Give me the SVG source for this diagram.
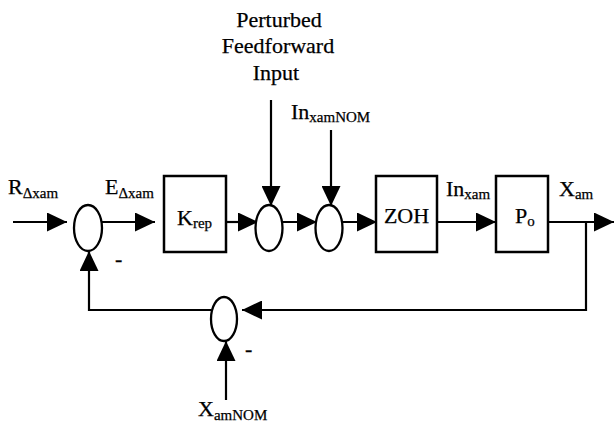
<svg xmlns="http://www.w3.org/2000/svg" width="614" height="424" viewBox="0 0 614 424">
<defs>
<style>
text{font-family:"Liberation Serif","Times New Roman",serif;fill:#000;stroke:#000;stroke-width:0.25}
.lbl{font-size:22px}
.sub{font-size:15px}
.box{fill:#fff;stroke:#000;stroke-width:2.5}
.sum{fill:#fff;stroke:#000;stroke-width:2.3}
.wire{fill:none;stroke:#000;stroke-width:2.2}
</style>
<marker id="ah" markerUnits="userSpaceOnUse" markerWidth="20" markerHeight="19" refX="20" refY="9.5" orient="auto">
<path d="M0,0 L20,9.5 L0,19 Z" fill="#000"/>
</marker>
</defs>
<rect width="614" height="424" fill="#fff"/>

<g id="connectors">
<line class="wire" x1="13" y1="222" x2="67" y2="222" marker-end="url(#ah)"/>
<line class="wire" x1="102" y1="222" x2="155" y2="222" marker-end="url(#ah)"/>
<line class="wire" x1="226" y1="222" x2="258" y2="222" marker-end="url(#ah)"/>
<line class="wire" x1="283" y1="222" x2="317" y2="222" marker-end="url(#ah)"/>
<line class="wire" x1="343" y1="222" x2="377" y2="222" marker-end="url(#ah)"/>
<line class="wire" x1="437" y1="222" x2="496" y2="222" marker-end="url(#ah)"/>
<line class="wire" x1="548" y1="222" x2="614" y2="222" marker-end="url(#ah)"/>
<line class="wire" x1="271" y1="100" x2="271" y2="206" marker-end="url(#ah)"/>
<line class="wire" x1="331" y1="130" x2="331" y2="206" marker-end="url(#ah)"/>
<polyline class="wire" points="586,222 586,310 242,310" marker-end="url(#ah)"/>
<polyline class="wire" points="211,310 89,310 89,251" marker-end="url(#ah)"/>
<line class="wire" x1="226" y1="400" x2="226" y2="341" marker-end="url(#ah)"/>
</g>

<g id="input-R">
<text class="lbl" x="8" y="194">R<tspan class="sub" dy="4">Δxam</tspan></text>
</g>
<g id="sum1">
<ellipse class="sum" cx="88" cy="228" rx="14" ry="23"/>
<text class="lbl" x="115" y="266">-</text>
</g>
<g id="error-E">
<text class="lbl" x="105" y="194">E<tspan class="sub" dy="4">Δxam</tspan></text>
</g>
<g id="krep">
<rect class="box" x="164" y="176" width="62" height="76"/>
<text class="lbl" x="177" y="225">K<tspan class="sub" dy="3">rep</tspan></text>
</g>
<g id="feedforward-label">
<text class="lbl" x="279" y="27" text-anchor="middle">Perturbed</text>
<text class="lbl" x="278" y="53" text-anchor="middle">Feedforward</text>
<text class="lbl" x="276" y="80" text-anchor="middle">Input</text>
</g>
<g id="sum2">
<ellipse class="sum" cx="269" cy="228" rx="13.5" ry="23"/>
</g>
<g id="in-nom">
<text class="lbl" x="291" y="119">In<tspan class="sub" dy="3">xamNOM</tspan></text>
</g>
<g id="sum3">
<ellipse class="sum" cx="329" cy="228" rx="13.5" ry="23"/>
</g>
<g id="zoh">
<rect class="box" x="376" y="176" width="61" height="76"/>
<text class="lbl" x="406.5" y="223" text-anchor="middle">ZOH</text>
</g>
<g id="in-xam">
<text class="lbl" x="446" y="196">In<tspan class="sub" dy="3">xam</tspan></text>
</g>
<g id="plant">
<rect class="box" x="496" y="176" width="52" height="76"/>
<text class="lbl" x="515" y="223">P<tspan class="sub" dy="3">o</tspan></text>
</g>
<g id="output-X">
<text class="lbl" x="559" y="196">X<tspan class="sub" dy="3">am</tspan></text>
</g>
<g id="sum4">
<ellipse class="sum" cx="224" cy="319" rx="13" ry="22"/>
<text class="lbl" x="245" y="356">-</text>
</g>
<g id="x-nom">
<text class="lbl" x="198" y="416">X<tspan class="sub" dy="4">amNOM</tspan></text>
</g>
</svg>
